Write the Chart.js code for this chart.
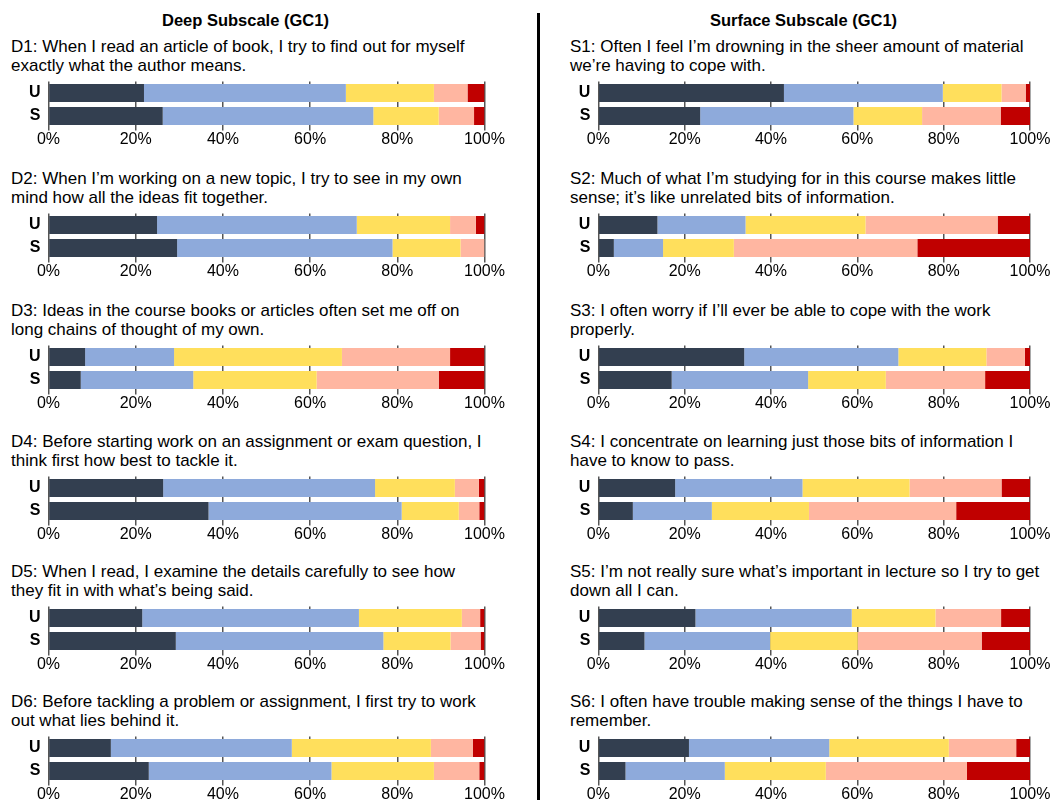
<!DOCTYPE html>
<html>
<head>
<meta charset="utf-8">
<script src="https://cdn.jsdelivr.net/npm/chart.js@4.4.1/dist/chart.umd.min.js"></script>
<style>
  body { margin: 0; width: 1064px; height: 800px; position: relative; background: #fff; overflow: hidden;
         font-family: "Liberation Sans", Arial, sans-serif; color: #000; }
  .header { position: absolute; font-weight: bold; font-size: 16.5px; line-height: 19px; white-space: nowrap; }
  .question { position: absolute; font-size: 17px; line-height: 19px; white-space: nowrap; }
  canvas { position: absolute; }
  .divider { position: absolute; left: 537px; top: 13px; width: 2.5px; height: 787px; background: #000; }
</style>
</head>
<body>
<div class="divider"></div>
<script>
// Data
const groups = ['U', 'S'];
const levels = ['Level 1', 'Level 2', 'Level 3', 'Level 4', 'Level 5'];
const levelColors = ['#333f50', '#8eaadb', '#ffdf5c', '#ffb6a1', '#c00000'];
const xTicks = [0, 20, 40, 60, 80, 100];

const deepTitle = 'Deep Subscale (GC1)';
const surfaceTitle = 'Surface Subscale (GC1)';

const deepQuestions = [
    ['D1: When I read an article of book, I try to find out for myself', 'exactly what the author means.'],
    ['D2: When I’m working on a new topic, I try to see in my own', 'mind how all the ideas fit together.'],
    ['D3: Ideas in the course books or articles often set me off on', 'long chains of thought of my own.'],
    ['D4: Before starting work on an assignment or exam question, I', 'think first how best to tackle it.'],
    ['D5: When I read, I examine the details carefully to see how', 'they fit in with what’s being said.'],
    ['D6: Before tackling a problem or assignment, I first try to work', 'out what lies behind it.']
];
const surfaceQuestions = [
    ['S1: Often I feel I’m drowning in the sheer amount of material', 'we’re having to cope with.'],
    ['S2: Much of what I’m studying for in this course makes little', 'sense; it’s like unrelated bits of information.'],
    ['S3: I often worry if I’ll ever be able to cope with the work', 'properly.'],
    ['S4: I concentrate on learning just those bits of information I', 'have to know to pass.'],
    ['S5: I’m not really sure what’s important in lecture so I try to get', 'down all I can.'],
    ['S6: I often have trouble making sense of the things I have to', 'remember.']
];

// percentages per response level, one row per question
const deepU = [
    [21.9, 46.3, 20.2, 7.7, 3.9],
    [24.9, 45.8, 21.4, 5.9, 2.0],
    [8.4, 20.4, 38.5, 24.8, 7.9],
    [26.3, 48.6, 18.3, 5.5, 1.3],
    [21.5, 49.7, 23.6, 4.2, 1.0],
    [14.3, 41.5, 31.9, 9.6, 2.7]
];
const deepS = [
    [26.2, 48.3, 15.0, 8.1, 2.4],
    [29.5, 49.4, 15.6, 5.5, 0],
    [7.4, 25.8, 28.3, 28.0, 10.5],
    [36.7, 44.3, 13.1, 4.7, 1.2],
    [29.2, 47.6, 15.4, 6.9, 0.9],
    [23.0, 41.9, 23.5, 10.4, 1.2]
];
const surfaceU = [
    [43.0, 36.8, 13.6, 5.6, 1.0],
    [13.7, 20.4, 27.8, 30.6, 7.5],
    [33.8, 35.7, 20.4, 8.9, 1.2],
    [17.8, 29.5, 24.8, 21.3, 6.6],
    [22.5, 36.2, 19.4, 15.2, 6.7],
    [21.0, 32.5, 27.7, 15.6, 3.2]
];
const surfaceS = [
    [23.6, 35.5, 15.9, 18.2, 6.8],
    [3.6, 11.4, 16.4, 42.5, 26.1],
    [17.0, 31.6, 18.0, 23.0, 10.4],
    [8.0, 18.3, 22.5, 34.1, 17.1],
    [10.7, 29.1, 20.3, 28.7, 11.2],
    [6.3, 23.0, 23.4, 32.7, 14.6]
];

// Layout
const panelTops = [84, 216, 348, 479, 609, 739];
const FONT = '"Liberation Sans", Arial, sans-serif';
Chart.defaults.font.family = FONT;
Chart.defaults.color = '#000';

function addText(cls, html, left, top) {
    const el = document.createElement('div');
    el.className = cls;
    el.innerHTML = html;
    el.style.left = left + 'px';
    el.style.top = top + 'px';
    document.body.appendChild(el);
}

function makeChart(left, top, width, yWidth, padRight, uRow, sRow) {
    const canvas = document.createElement('canvas');
    canvas.width = width;
    canvas.height = 81;
    canvas.style.left = left + 'px';
    canvas.style.top = top + 'px';
    document.body.appendChild(canvas);

    return new Chart(canvas.getContext('2d'), {
        type: 'bar',
        data: {
            labels: groups,
            datasets: levels.map((name, i) => ({
                label: name,
                data: [uRow[i], sRow[i]],
                backgroundColor: levelColors[i],
                borderWidth: 0,
                barPercentage: 0.78,
                categoryPercentage: 1
            }))
        },
        options: {
            indexAxis: 'y',
            responsive: false,
            animation: false,
            layout: { padding: { top: 10.5, right: padRight, left: 0, bottom: 0 } },
            plugins: { legend: { display: false }, tooltip: { enabled: false } },
            scales: {
                x: {
                    stacked: true,
                    min: 0,
                    max: 100,
                    afterBuildTicks: (scale) => { scale.ticks = xTicks.map(v => ({ value: v })); },
                    afterFit: (scale) => { scale.height = 24.5; },
                    grid: { color: '#555', lineWidth: 1.5, tickLength: 3 },
                    border: { display: false },
                    ticks: {
                        callback: (v) => v + '%',
                        color: '#000',
                        padding: -1,
                        maxRotation: 0,
                        autoSkip: false,
                        font: { size: 16 }
                    }
                },
                y: {
                    stacked: true,
                    afterFit: (scale) => { scale.width = yWidth; },
                    // transparent tick marks give the gap between labels and bars
                    grid: { drawOnChartArea: false, drawTicks: true, tickLength: 8, color: 'rgba(0,0,0,0)' },
                    border: { display: false },
                    ticks: { color: '#000', padding: 0, autoSkip: false, font: { size: 16, weight: 'bold' } }
                }
            }
        }
    });
}

addText('header', deepTitle, 162, 11);
addText('header', surfaceTitle, 710, 11);

panelTops.forEach((t, i) => {
    addText('question', deepQuestions[i].join('<br>'), 11, t - 47.4);
    addText('question', surfaceQuestions[i].join('<br>'), 570, t - 47.4);
    makeChart(0, t - 13, 530, 48.5, 45.5, deepU[i], deepS[i]);
    makeChart(540, t - 13, 524, 58.3, 34, surfaceU[i], surfaceS[i]);
});
</script>
</body>
</html>
